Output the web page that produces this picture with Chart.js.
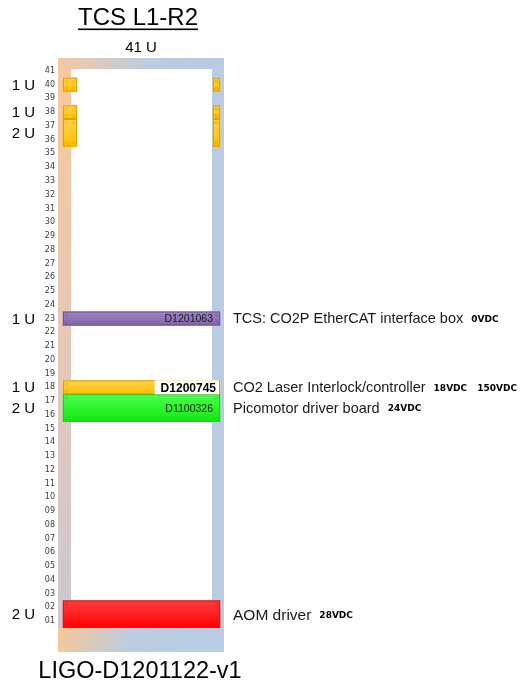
<!DOCTYPE html>
<html>
<head>
<meta charset="utf-8">
<title>TCS L1-R2</title>
<script src="https://cdn.jsdelivr.net/npm/chart.js@4"></script>
<style>
  html, body { margin: 0; padding: 0; background: #fff; }
  #wrap { width: 521px; height: 685px; position: relative; }
</style>
</head>
<body>
<div id="wrap"><canvas id="rack"></canvas></div>
<script>
// rack slots, top to bottom
const rackUnits = ["41", "40", "39", "38", "37", "36", "35", "34", "33", "32", "31",
  "30", "29", "28", "27", "26", "25", "24", "23", "22", "21", "20", "19", "18", "17",
  "16", "15", "14", "13", "12", "11", "10", "09", "08", "07", "06", "05", "04", "03",
  "02", "01"];

// installed equipment
const deviceTop = ["40", "38", "37", "23", "18", "17", "02"];
const deviceSize = [1, 1, 2, 1, 1, 2, 2];
const deviceMount = ["rails", "rails", "rails", "full", "full", "full", "full"];
const sizeLabels = ["1 U", "1 U", "2 U", "1 U", "1 U", "2 U", "2 U"];
const deviceIds = ["", "", "", "D1201063", "D1200745", "D1100326", ""];
const deviceNames = ["", "", "", "TCS: CO2P EtherCAT interface box",
  "CO2 Laser Interlock/controller", "Picomotor driver board", "AOM driver"];
const deviceVolts = [[], [], [], ["0VDC"], ["18VDC", "150VDC"], ["24VDC"], ["28VDC"]];

// looks
const palette = {
  yellow: ["#ffd44d", "#ffbf00", "#dba400"],
  purple: ["#9d86c4", "#8264a9", "#6f5593"],
  green: ["#4cff4c", "#11e811", "#2dc42d"],
  red: ["#ff3d3d", "#ff0000", "#d81818"]
};
const deviceColor = ["yellow", "yellow", "yellow", "purple", "yellow", "green", "red"];
const idStyle = ["", "", "", "plain", "boxed", "plain", ""];

// horizontal geometry of the rack in px-like units (0 = outer left edge)
const X_MAX = 166;
const SPANS = { full: [[5, 162]], rails: [[5, 19], [155, 162]] };

const slotIndex = (i) => rackUnits.indexOf(deviceTop[i]);

function deviceGradient(chart, i) {
  const c = palette[deviceColor[i]];
  const ys = chart.scales.y;
  if (!ys || !chart.chartArea) return c[1];
  const half = (ys.getPixelForValue(1) - ys.getPixelForValue(0)) / 2;
  const y0 = ys.getPixelForValue(slotIndex(i)) - half;
  const y1 = ys.getPixelForValue(slotIndex(i) + deviceSize[i] - 1) + half;
  const g = chart.ctx.createLinearGradient(0, y0, 0, y1);
  g.addColorStop(0, c[0]);
  g.addColorStop(1, c[1]);
  return g;
}

const datasets = deviceTop.map((top, i) => {
  const pts = [];
  for (let k = 0; k < deviceSize[i]; k++) {
    SPANS[deviceMount[i]].forEach((span) => {
      pts.push({ y: rackUnits[slotIndex(i) + k], x: span });
    });
  }
  return {
    label: deviceNames[i] || "rail unit",
    data: pts,
    grouped: false,
    categoryPercentage: 1,
    barPercentage: 1,
    borderWidth: 0,
    backgroundColor: (ctx) => deviceGradient(ctx.chart, i)
  };
});

// grey/blue rack frame behind the equipment
const rackFrame = {
  id: "rackFrame",
  beforeDatasetsDraw(chart) {
    const { ctx, chartArea: a } = chart;
    const top = a.top - 6;
    const bottom = a.bottom + 24;
    const w = a.right - a.left;
    ctx.save();
    let g = ctx.createLinearGradient(0, top, 0, bottom);
    g.addColorStop(0, "#f8c89c");
    g.addColorStop(0.5, "#e6c8b8");
    g.addColorStop(1, "#c9c8d4");
    ctx.fillStyle = g;
    ctx.fillRect(a.left, top, 13, bottom - top);

    ctx.fillStyle = "#b9cce4";
    ctx.fillRect(a.right - 12, top, 12, bottom - top);

    g = ctx.createLinearGradient(a.left, 0, a.right, 0);
    g.addColorStop(0, "#f4c8a2");
    g.addColorStop(0.55, "#bccce0");
    g.addColorStop(1, "#b9cce4");
    ctx.fillStyle = g;
    ctx.fillRect(a.left, top, w, 11);

    g = ctx.createLinearGradient(a.left, a.bottom, a.left + 110, bottom + 20);
    g.addColorStop(0, "#f9c796");
    g.addColorStop(0.6, "#bdcce0");
    g.addColorStop(1, "#b9cce4");
    ctx.fillStyle = g;
    ctx.fillRect(a.left, a.bottom, w, bottom - a.bottom);
    ctx.restore();
  }
};

// thin outline and corner screws around each unit, spanning all its slots
const unitOutline = {
  id: "unitOutline",
  afterDatasetsDraw(chart) {
    const { ctx } = chart;
    ctx.save();
    ctx.lineWidth = 1;
    deviceTop.forEach((top, i) => {
      const els = chart.getDatasetMeta(i).data;
      const nSpan = SPANS[deviceMount[i]].length;
      for (let s = 0; s < nSpan; s++) {
        const first = els[s];
        const last = els[s + (deviceSize[i] - 1) * nSpan];
        const x0 = Math.min(first.x, first.base);
        const x1 = Math.max(first.x, first.base);
        const y0 = first.y - first.height / 2;
        const y1 = last.y + last.height / 2;
        ctx.strokeStyle = palette[deviceColor[i]][2];
        ctx.strokeRect(x0 + 0.5, y0 + 0.5, x1 - x0 - 1, y1 - y0 - 1);
        ctx.globalAlpha = 0.45;
        [[x0 + 3.5, y0 + 3.5], [x0 + 3.5, y1 - 3.5], [x1 - 3.5, y0 + 3.5], [x1 - 3.5, y1 - 3.5]]
          .forEach(([px, py]) => {
            ctx.beginPath();
            ctx.arc(px, py, 1.3, 0, Math.PI * 2);
            ctx.stroke();
          });
        ctx.globalAlpha = 1;
      }
    });
    ctx.restore();
  }
};

// titles, unit counts, part numbers and descriptions
const rackText = {
  id: "rackText",
  afterDatasetsDraw(chart) {
    const { ctx, chartArea: a } = chart;
    const ys = chart.scales.y;
    const cx = (a.left + a.right) / 2;
    ctx.save();
    ctx.textBaseline = "middle";

    ctx.fillStyle = "#000";
    ctx.textAlign = "center";
    ctx.font = "24px 'Liberation Sans', Arial, sans-serif";
    ctx.fillText("TCS L1-R2", cx - 3, 18);
    const tw = ctx.measureText("TCS L1-R2").width;
    ctx.fillRect(cx - 3 - tw / 2, 28.5, tw, 1.6);
    ctx.font = "15px 'Liberation Sans', Arial, sans-serif";
    ctx.fillText("41 U", cx, 48);
    ctx.font = "23.5px 'Liberation Sans', Arial, sans-serif";
    ctx.fillText("LIGO-D1201122-v1", cx - 1, 672);

    deviceTop.forEach((top, i) => {
      const y = (ys.getPixelForValue(slotIndex(i)) +
        ys.getPixelForValue(slotIndex(i) + deviceSize[i] - 1)) / 2;

      ctx.fillStyle = "#000";
      ctx.textAlign = "right";
      ctx.font = "15px 'Liberation Sans', Arial, sans-serif";
      ctx.fillText(sizeLabels[i], 35, y + 1);

      if (idStyle[i] === "plain") {
        ctx.font = "10.5px 'Liberation Sans', Arial, sans-serif";
        ctx.fillStyle = "#1a1a1a";
        ctx.fillText(deviceIds[i], a.right - 11, y + 1);
      } else if (idStyle[i] === "boxed") {
        ctx.font = "bold 12px 'Liberation Sans', Arial, sans-serif";
        const w = ctx.measureText(deviceIds[i]).width;
        ctx.fillStyle = "#fff";
        ctx.fillRect(a.right - 9 - w - 5, y - 7, w + 9, 14);
        ctx.fillStyle = "#000";
        ctx.fillText(deviceIds[i], a.right - 8, y + 1);
      }

      if (deviceNames[i]) {
        ctx.textAlign = "left";
        ctx.fillStyle = "#1a1a1a";
        ctx.font = (i === 6 ? "15.5px" : "14.5px") + " 'Liberation Sans', Arial, sans-serif";
        let x = a.right + 9;
        ctx.fillText(deviceNames[i], x, y + 1);
        x += ctx.measureText(deviceNames[i]).width + 8;
        ctx.font = "bold 9px 'DejaVu Sans', sans-serif";
        ctx.fillStyle = "#000";
        deviceVolts[i].forEach((v) => {
          ctx.fillText(v, x, y + 1);
          x += ctx.measureText(v).width + 10;
        });
      }
    });
    ctx.restore();
  }
};

new Chart(document.getElementById("rack"), {
  type: "bar",
  data: { labels: rackUnits, datasets: datasets },
  plugins: [rackFrame, unitOutline, rackText],
  options: {
    indexAxis: "y",
    responsive: true,
    maintainAspectRatio: false,
    animation: false,
    layout: { padding: { left: 38, right: 297, top: 64, bottom: 57 } },
    plugins: { legend: { display: false }, tooltip: { enabled: false } },
    scales: {
      x: { type: "linear", min: 0, max: X_MAX, display: false },
      y: {
        type: "category",
        grid: { display: false, drawTicks: false },
        border: { display: false },
        afterFit: (scale) => { scale.width = 20; },
        ticks: {
          autoSkip: false,
          padding: 3,
          color: "#3a3a3a",
          font: { family: "'DejaVu Sans', sans-serif", size: 8 }
        }
      }
    }
  }
});
</script>
</body>
</html>
